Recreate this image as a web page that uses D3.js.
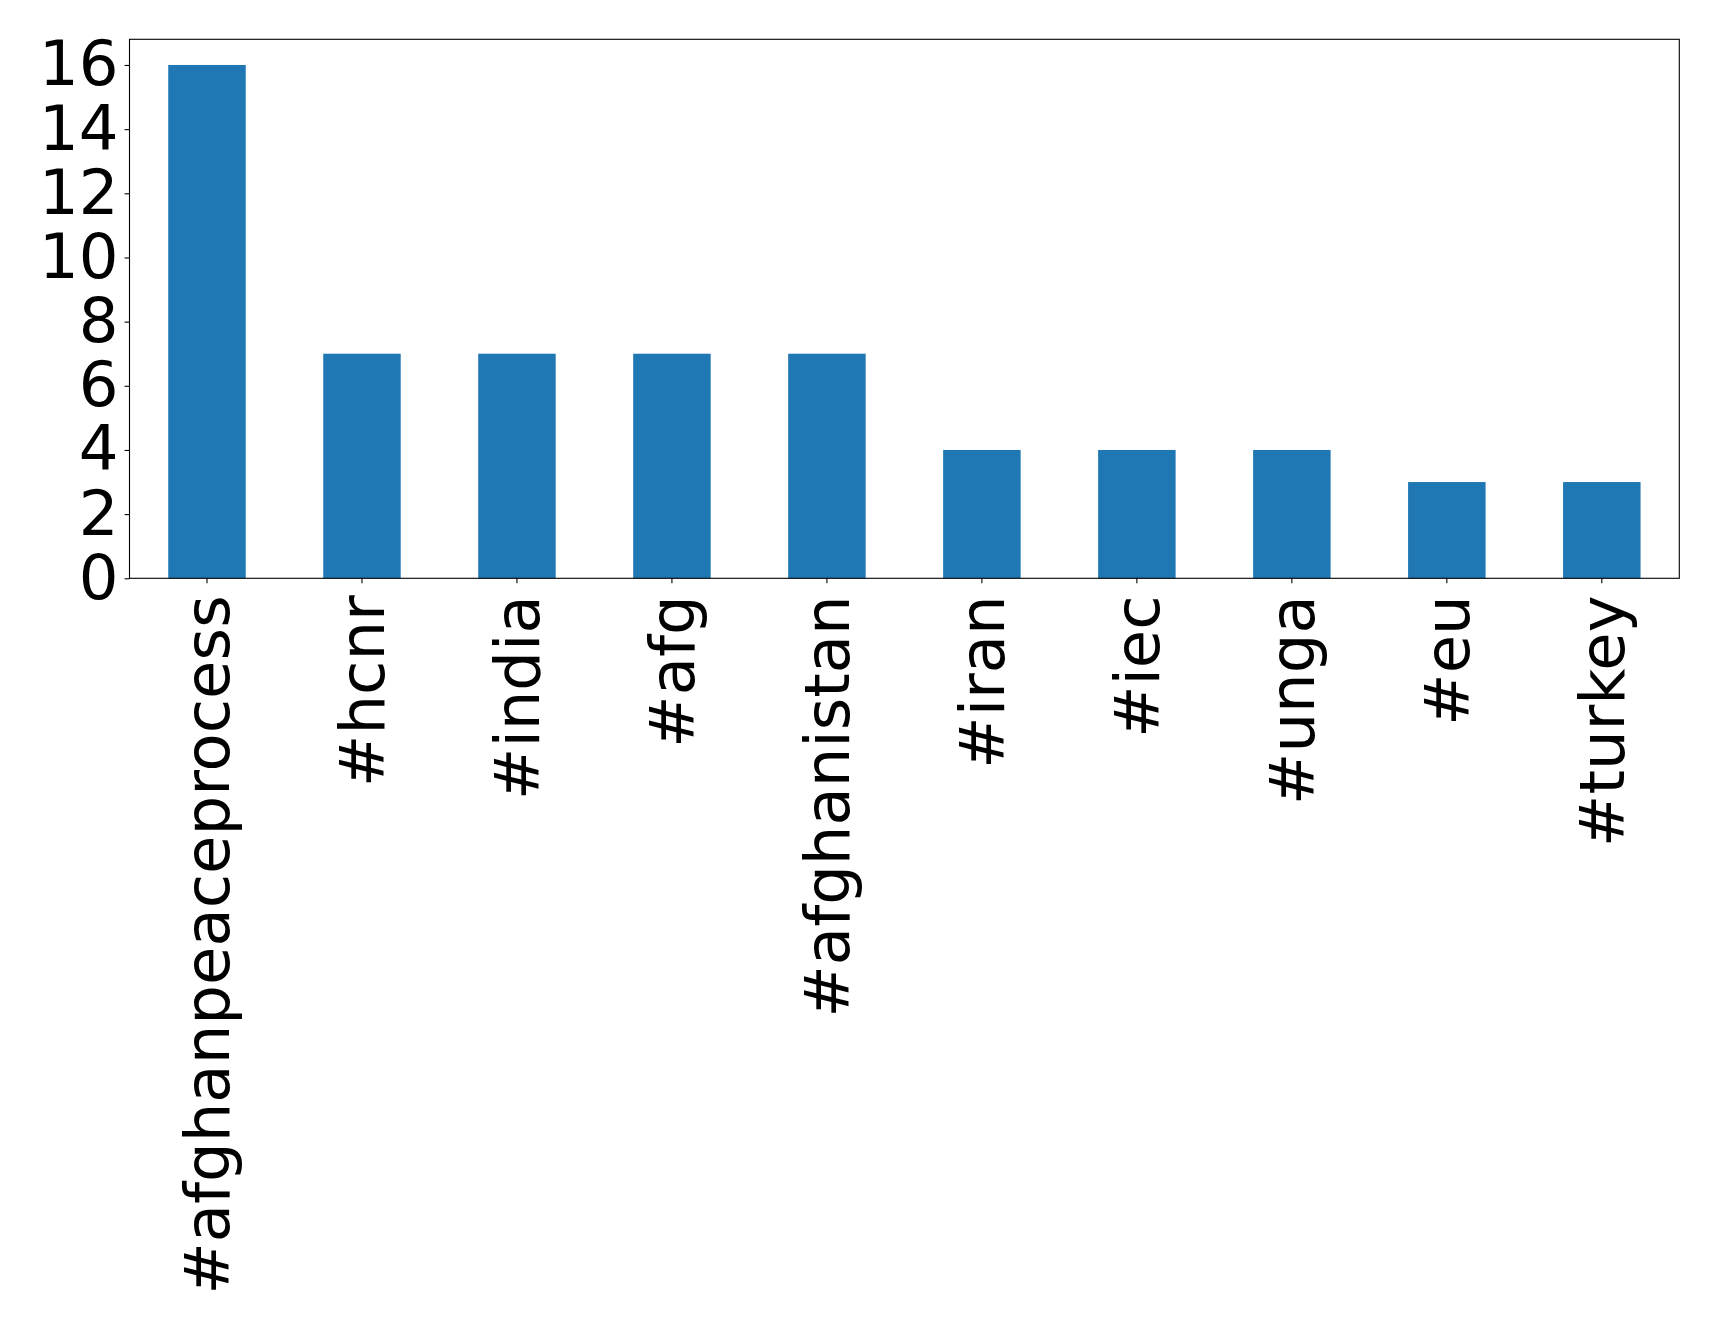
<!DOCTYPE html>
<html><head><meta charset="utf-8">
<script src="https://cdn.jsdelivr.net/npm/d3@7"></script>
<style>body{margin:0;background:#fff;} svg{display:block;}</style>
</head><body>
<script>
const categories = ["#afghanpeaceprocess","#hcnr","#india","#afg","#afghanistan","#iran","#iec","#unga","#eu","#turkey"];
const values = [16,7,7,7,7,4,4,4,3,3];
const yTicks = [0,2,4,6,8,10,12,14,16];

const W = 1719, H = 1327;
const m = {left:129.5, right:W-1679.3, top:39.3, bottom:H-578.3};
const svg = d3.select("body").append("svg").attr("width",W).attr("height",H);
const x = d3.scaleBand().domain(categories).range([m.left, W-m.right]).paddingInner(0.5).paddingOuter(0.25);
const y = d3.scaleLinear().domain([0,16.8]).range([H-m.bottom, m.top]);
const font = "DejaVu Sans";
const fs = 62.5;

svg.append("g").selectAll("rect").data(categories).join("rect")
  .attr("x", d=>x(d)).attr("width", x.bandwidth())
  .attr("y", (d,i)=>y(values[i])).attr("height", (d,i)=>y(0)-y(values[i]))
  .attr("fill","#1f77b4");

const ya = svg.append("g").attr("transform",`translate(${m.left},0)`)
  .call(d3.axisLeft(y).tickValues(yTicks).tickSize(4.9).tickPadding(6).tickFormat(d3.format("d")));
ya.select(".domain").remove();
ya.selectAll("text").attr("font-family",font).attr("font-size",fs).attr("fill","#000");
ya.selectAll("line").attr("stroke","#000").attr("stroke-width",1.1);

const xa = svg.append("g").attr("transform",`translate(0,${H-m.bottom})`)
  .call(d3.axisBottom(x).tickSize(4.9).tickPadding(4.9));
xa.select(".domain").remove();
xa.selectAll("line").attr("stroke","#000").attr("stroke-width",1.1);
xa.selectAll("text").attr("font-family",font).attr("font-size",fs).attr("fill","#000")
  .attr("transform","rotate(-90)").attr("text-anchor","end").attr("dy","0.35em")
  .attr("x",-17).attr("y",0);

svg.append("rect").attr("x",m.left).attr("y",m.top).attr("width",W-m.left-m.right).attr("height",H-m.top-m.bottom)
  .attr("fill","none").attr("stroke","#000").attr("stroke-width",1.1);
</script>
</body></html>
